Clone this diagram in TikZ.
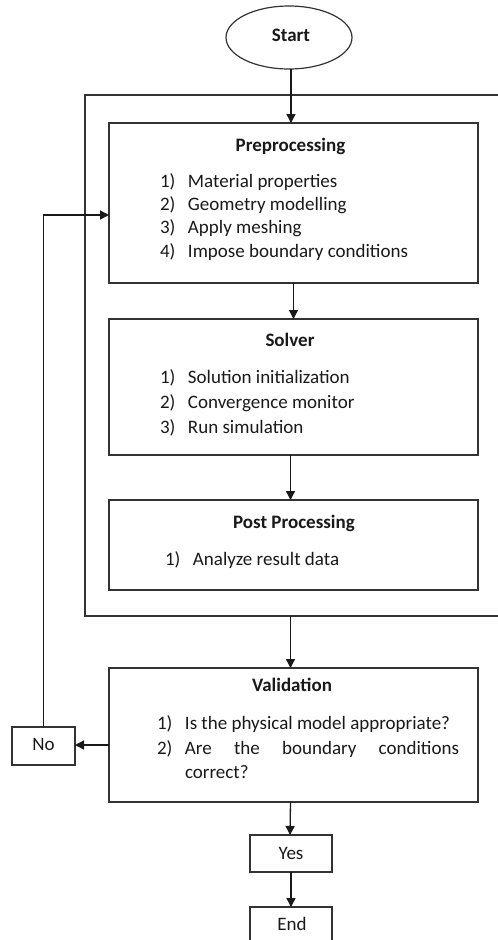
\documentclass[tikz,border=0pt]{standalone}
\usepackage{fontspec}
\setmainfont{Carlito}
\usetikzlibrary{shapes.geometric,arrows.meta,calc}
\begin{document}
\begin{tikzpicture}[x=1pt,y=1pt,
  every node/.style={inner sep=0pt, outer sep=0pt, font=\fontsize{19}{23.5}\selectfont, text=black!90},
  box/.style={draw=black!80, line width=1.3pt, rectangle},
  flow/.style={draw=black!90, line width=1.3pt, -{Triangle[length=9pt,width=9pt]}},
  title/.style={anchor=mid, font=\fontsize{19}{23.5}\selectfont\bfseries},
  item/.style={anchor=mid west}]
\useasboundingbox (0,0) rectangle (498,-940);

% start terminal and the frame around the simulation stages
\node[draw=black!80, line width=1.2pt, ellipse, minimum width=126, minimum height=63] (start) at (289,-37.5) {};
\node[anchor=mid] (starttxt) at (291,-39) {\bfseries Start};

\node[box, minimum width=425, minimum height=521] (frame) at (297.5,-355.5) {};

% stage boxes
\node[box, minimum width=369, minimum height=160] (pre) at (293.5,-203) {};
\node[box, minimum width=369, minimum height=136] (sol) at (293.5,-387) {};
\node[box, minimum width=369, minimum height=90] (post) at (293.5,-545) {};
\node[box, minimum width=369, minimum height=134] (val) at (293.5,-735) {};
\node[box, minimum width=63, minimum height=38] (no) at (43.5,-746) {};
\node[box, minimum width=82, minimum height=37] (yes) at (291,-853.5) {};
\node[box, minimum width=82, minimum height=37] (end) at (291,-925.5) {};

% box contents
\newcommand{\num}[1]{\makebox[28pt][l]{#1}}
\node[title] (pret) at (290.5,-149) {Preprocessing};
\node[item] (pre1) at (160,-185.5) {\num{1)}Material properties};
\node[item] (pre2) at (160,-208) {\num{2)}Geometry modelling};
\node[item] (pre3) at (160,-231.5) {\num{3)}Apply meshing};
\node[item] (pre4) at (160,-255.5) {\num{4)}Impose boundary conditions};

\node[title] (solt) at (290,-344) {Solver};
\node[item] (sol1) at (160,-381) {\num{1)}Solution initialization};
\node[item] (sol2) at (160,-406.5) {\num{2)}Convergence monitor};
\node[item] (sol3) at (160,-431) {\num{3)}Run simulation};

\node[title] (postt) at (294,-526) {Post Processing};
\node[item] (post1) at (165,-563) {\num{1)}Analyze result data};

\node[title] (valt) at (292,-689) {Validation};
\node[item] (val1) at (157,-727) {\num{1)}Is the physical model appropriate?};
\node[item] (val2) at (157,-752.5) {\num{2)}\makebox[274pt][s]{Are the boundary conditions}};
\node[item] (val3) at (185,-776.5) {correct?};

\node[anchor=mid] (notxt) at (43.5,-748) {No};
\node[anchor=mid] (yestxt) at (291,-857) {Yes};
\node[anchor=mid] (endtxt) at (292,-928) {End};

% connectors
\draw[flow] ($(start.south)+(2,0)$) -- ($(start.south |- pre.north)+(2,0)$);
\draw[flow] (pre.south) -- (sol.north);
\draw[flow] ($(sol.south)+(-3,0)$) -- ($(post.north)+(-3,0)$);
\draw[flow] ($(val.north |- frame.south)+(-3,0)$) -- ($(val.north)+(-3,0)$);
\draw[flow] ($(val.west)+(0,-10)$) -- (no.east |- {$(val.west)+(0,-10)$});
\draw[flow] (no.north) |- ($(pre.west)+(0,-12)$);
\draw[flow] ($(val.south)+(-3,0)$) -- ($(yes.north)+(-1,0)$);
\draw[flow] (yes.south) -- (end.north);
\end{tikzpicture}
\end{document}
